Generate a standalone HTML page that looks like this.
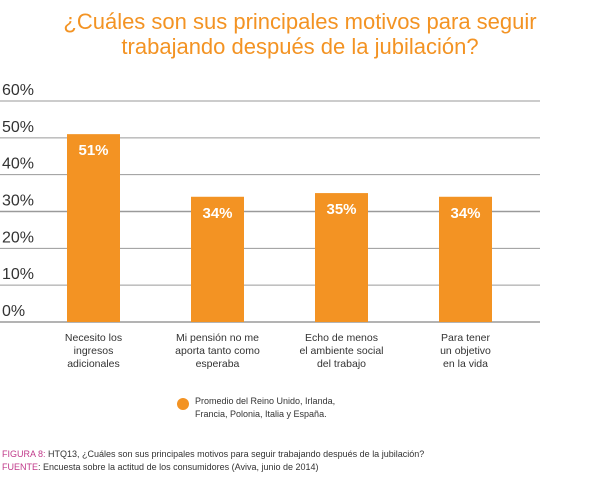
<!DOCTYPE html>
<html><head><meta charset="utf-8"><style>
body{margin:0;background:#fff;font-family:"Liberation Sans",sans-serif}
#c{position:relative;width:612px;height:498px;overflow:hidden}
</style></head><body>
<div id="c">
<svg width="612" height="498">
<g id="title" font-size="22" fill="#f39323" text-anchor="middle">
<text x="300" y="29">¿Cuáles son sus principales motivos para seguir</text>
<text x="300" y="54">trabajando después de la jubilación?</text>
</g>
<g id="grid"></g><g id="bars"></g><g id="cats"></g>
<g>
<circle cx="183" cy="404" r="6" fill="#f39323"/>
<text x="195" y="404" font-size="9" fill="#333">Promedio del Reino Unido, Irlanda,</text>
<text x="195" y="417" font-size="9" fill="#333">Francia, Polonia, Italia y España.</text>
</g>
<g font-size="9" fill="#333">
<text x="2" y="457"><tspan fill="#c0398a">FIGURA 8:</tspan> HTQ13, ¿Cuáles son sus principales motivos para seguir trabajando después de la jubilación?</text>
<text x="2" y="470"><tspan fill="#c0398a">FUENTE</tspan>: Encuesta sobre la actitud de los consumidores (Aviva, junio de 2014)</text>
</g>
</svg></div>
<script>
const categories=[["Necesito los","ingresos","adicionales"],["Mi pensión no me","aporta tanto como","esperaba"],["Echo de menos","el ambiente social","del trabajo"],["Para tener","un objetivo","en la vida"]];
const values=[51,34,35,34];
const ticks=[0,10,20,30,40,50,60];
const NS="http://www.w3.org/2000/svg";
const y=v=>322-v*(221/60);
const xc=i=>93.5+i*124;
function mk(t,a,p){const e=document.createElementNS(NS,t);for(const k in a)e.setAttribute(k,a[k]);p.appendChild(e);return e;}
const g=document.getElementById('grid'),b=document.getElementById('bars'),c=document.getElementById('cats');
ticks.forEach(t=>{
 const l=mk('line',{x1:0,x2:540,y1:y(t),y2:y(t),stroke:'#9a9a9a','stroke-width':t===0||t===30?1.4:1},g);
 
 
 const tx=mk('text',{x:2,y:y(t)-6,'font-size':16,fill:'#333'},g);tx.textContent=t+'%';
 
 
});
values.forEach((v,i)=>{
 const r=mk('rect',{x:xc(i)-26.5,y:y(v),width:53,height:y(0)-y(v),fill:'#f39323'},b);
 
 
 const t=mk('text',{x:xc(i),y:y(v)+21,'font-size':15,'font-weight':'bold',fill:'#fff','text-anchor':'middle'},b);t.textContent=v+'%';
 
 
 categories[i].forEach((s,j)=>{
  const ct=mk('text',{x:xc(i),y:341+j*13,'font-size':10.5,fill:'#333','text-anchor':'middle'},c);ct.textContent=s;
  
  
 });
});
</script>
</body></html>
